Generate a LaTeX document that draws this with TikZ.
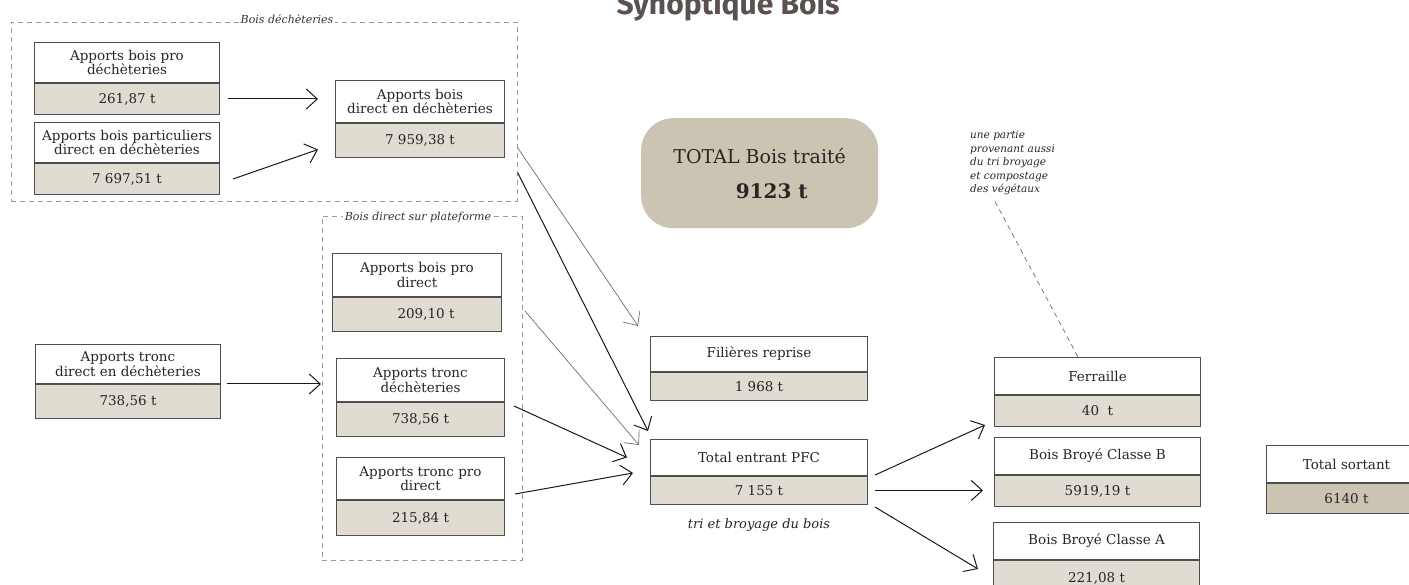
\documentclass[tikz,border=0pt]{standalone}
\usepackage{fontspec}
\setmainfont{DejaVu Serif}
\newfontfamily\titlefont{Fira Sans}
\usetikzlibrary{arrows.meta}
\definecolor{boxline}{HTML}{4E4E4E}
\definecolor{valfill}{HTML}{E0DCD2}
\definecolor{darkfill}{HTML}{CBC4B2}
\definecolor{titlecol}{HTML}{5C5050}
\definecolor{dashcol}{HTML}{9A9A9A}
\definecolor{grayarrow}{HTML}{6E6E6E}
\tikzset{
  boxfont/.style={font=\fontsize{13.5}{14.5}\selectfont},
  ttl/.style={boxfont, draw=boxline, line width=1pt, fill=white, anchor=north west, inner sep=0pt, align=center, text=black!85},
  val/.style={ttl, fill=valfill},
  dval/.style={ttl, fill=darkfill},
  dbox/.style={draw=dashcol, dash pattern=on 5pt off 4pt, line width=0.8pt, anchor=north west, inner sep=0pt},
  dlabel/.style={fill=white, inner sep=2pt, font=\fontsize{11}{12}\selectfont\itshape, text=black!80},
  arr/.style={draw=black!90, line width=1pt, -{Straight Barb[length=11pt,width=20pt]}},
  garr/.style={draw=grayarrow, line width=0.7pt, -{Straight Barb[length=11pt,width=20pt]}},
  notedash/.style={draw=grayarrow, line width=0.7pt, dash pattern=on 5pt off 4pt},
}
\newcommand\boxpair[9][val]{%
  \node[ttl, minimum width=#5pt, minimum height=#6pt] (#2) at (#3,#4) {#8};
  \node[#1, minimum width=#5pt, minimum height=#7pt] (#2v) at (#2.south west) {#9};
}
\begin{document}
\begin{tikzpicture}[x=1pt,y=-1pt]
\useasboundingbox[fill=white] (0,0) rectangle (1409,585);

% title
\node[font=\titlefont\bfseries\fontsize{30}{32}\selectfont, text=titlecol, anchor=base] (title) at (728,15) {Synoptique Bois};

% dashed groups
\node[dbox, minimum width=506pt, minimum height=179pt] (dk1) at (11,22) {};
\node[dlabel] (dk1l) at (287,19) {Bois déchèteries};
\node[dbox, minimum width=200pt, minimum height=344pt] (dk2) at (322,216) {};
\node[dlabel] (dk2l) at (418,217) {Bois direct sur plateforme};

% boxes
\boxpair{bp}{34}{42}{185}{40}{31}{Apports bois pro\\déchèteries}{261,87 t}
\boxpair{bpart}{34}{122}{185}{40}{31}{Apports bois particuliers\\direct en déchèteries}{7 697,51 t}
\boxpair{bdd}{335}{80}{169}{42}{34}{Apports bois\\direct en déchèteries}{7 959,38 t}
\boxpair{tdd}{35}{344}{185}{39}{34}{Apports tronc\\direct en déchèteries}{738,56 t}
\boxpair{bpd}{332}{253}{169}{43}{34}{Apports bois pro\\direct}{\hspace*{18pt}209,10 t}
\boxpair{tdec}{336}{358}{168}{43}{34}{Apports tronc\\déchèteries}{738,56 t}
\boxpair{tpd}{336}{457}{168}{42}{35}{Apports tronc pro\\direct}{215,84 t}
\boxpair{fil}{650}{336}{217}{35}{28}{Filières reprise}{1 968 t}
\boxpair{pfc}{650}{439}{217}{36}{28}{Total entrant PFC}{7 155 t}
\boxpair{fer}{994}{357}{206}{37}{31}{Ferraille}{40\ \ t}
\boxpair{bbb}{994}{437}{206}{37}{31}{Bois Broyé Classe B}{5919,19 t}
\boxpair{bba}{993}{522}{206}{37}{36}{Bois Broyé Classe A}{221,08 t}
\boxpair[dval]{tso}{1266}{445}{160}{37}{30}{Total sortant}{6140 t}

% total
\node[fill=darkfill, rounded corners=32pt, minimum width=237pt, minimum height=110pt, anchor=north west, inner sep=0pt, align=center, font=\fontsize{19}{35}\selectfont, text=black!85] (tot) at (641,118) {TOTAL Bois traité\\\hspace*{24pt}\fontsize{20}{35}\selectfont\bfseries 9123 t};

% notes
\node[anchor=north, font=\fontsize{13}{15}\selectfont\itshape, text=black!85] (tri) at (759,515) {tri et broyage du bois};
\node[anchor=north west, align=left, inner sep=0pt, font=\fontsize{10.5}{13.5}\selectfont\itshape, text=black!85] (note) at (970,131) {une partie\\provenant aussi\\du tri broyage\\et compostage\\des végétaux};
\draw[notedash] ([xshift=25pt,yshift=-6pt]note.south west) -- ([xshift=84pt]fer.north west);

% connectors left
\draw[arr, shorten <=8pt, shorten >=17pt] (bpv.east) -- (bpv.east -| bdd.west);
\draw[arr] ([xshift=13pt]bpartv.east) -- ([shift={(-17pt,-9pt)}]bddv.west);
\draw[arr, shorten <=6pt, shorten >=1pt] (tdd.south east) -- (tdd.south east -| dk2.west);

% connectors to centre
\draw[garr] ([yshift=-36pt]dk1.east) -- ([shift={(-12pt,10pt)}]fil.north west);
\draw[arr] ([yshift=-61pt]dk1.east) -- ([shift={(-2pt,8pt)}]pfc.north west);
\draw[garr] ([shift={(23pt,-14pt)}]bpd.south east) -- ([shift={(-11pt,-6pt)}]pfc.north west);
\draw[arr] ([shift={(9pt,-4pt)}]tdec.south east) -- ([xshift=-23pt]pfc.west);
\draw[arr] ([shift={(10pt,6pt)}]tpd.south east) -- ([shift={(-17pt,-15.5pt)}]pfc.west);

% connectors right
\draw[arr] ([shift={(7pt,1pt)}]pfc.south east) -- ([shift={(-9pt,2pt)}]ferv.south west);
\draw[arr, shorten <=7pt, shorten >=11pt] (pfcv.east) -- (pfcv.east -| bbbv.west);
\draw[arr] ([shift={(7pt,-2pt)}]pfcv.south east) -- ([shift={(-15pt,9.5pt)}]bbav.west);
\end{tikzpicture}
\end{document}
